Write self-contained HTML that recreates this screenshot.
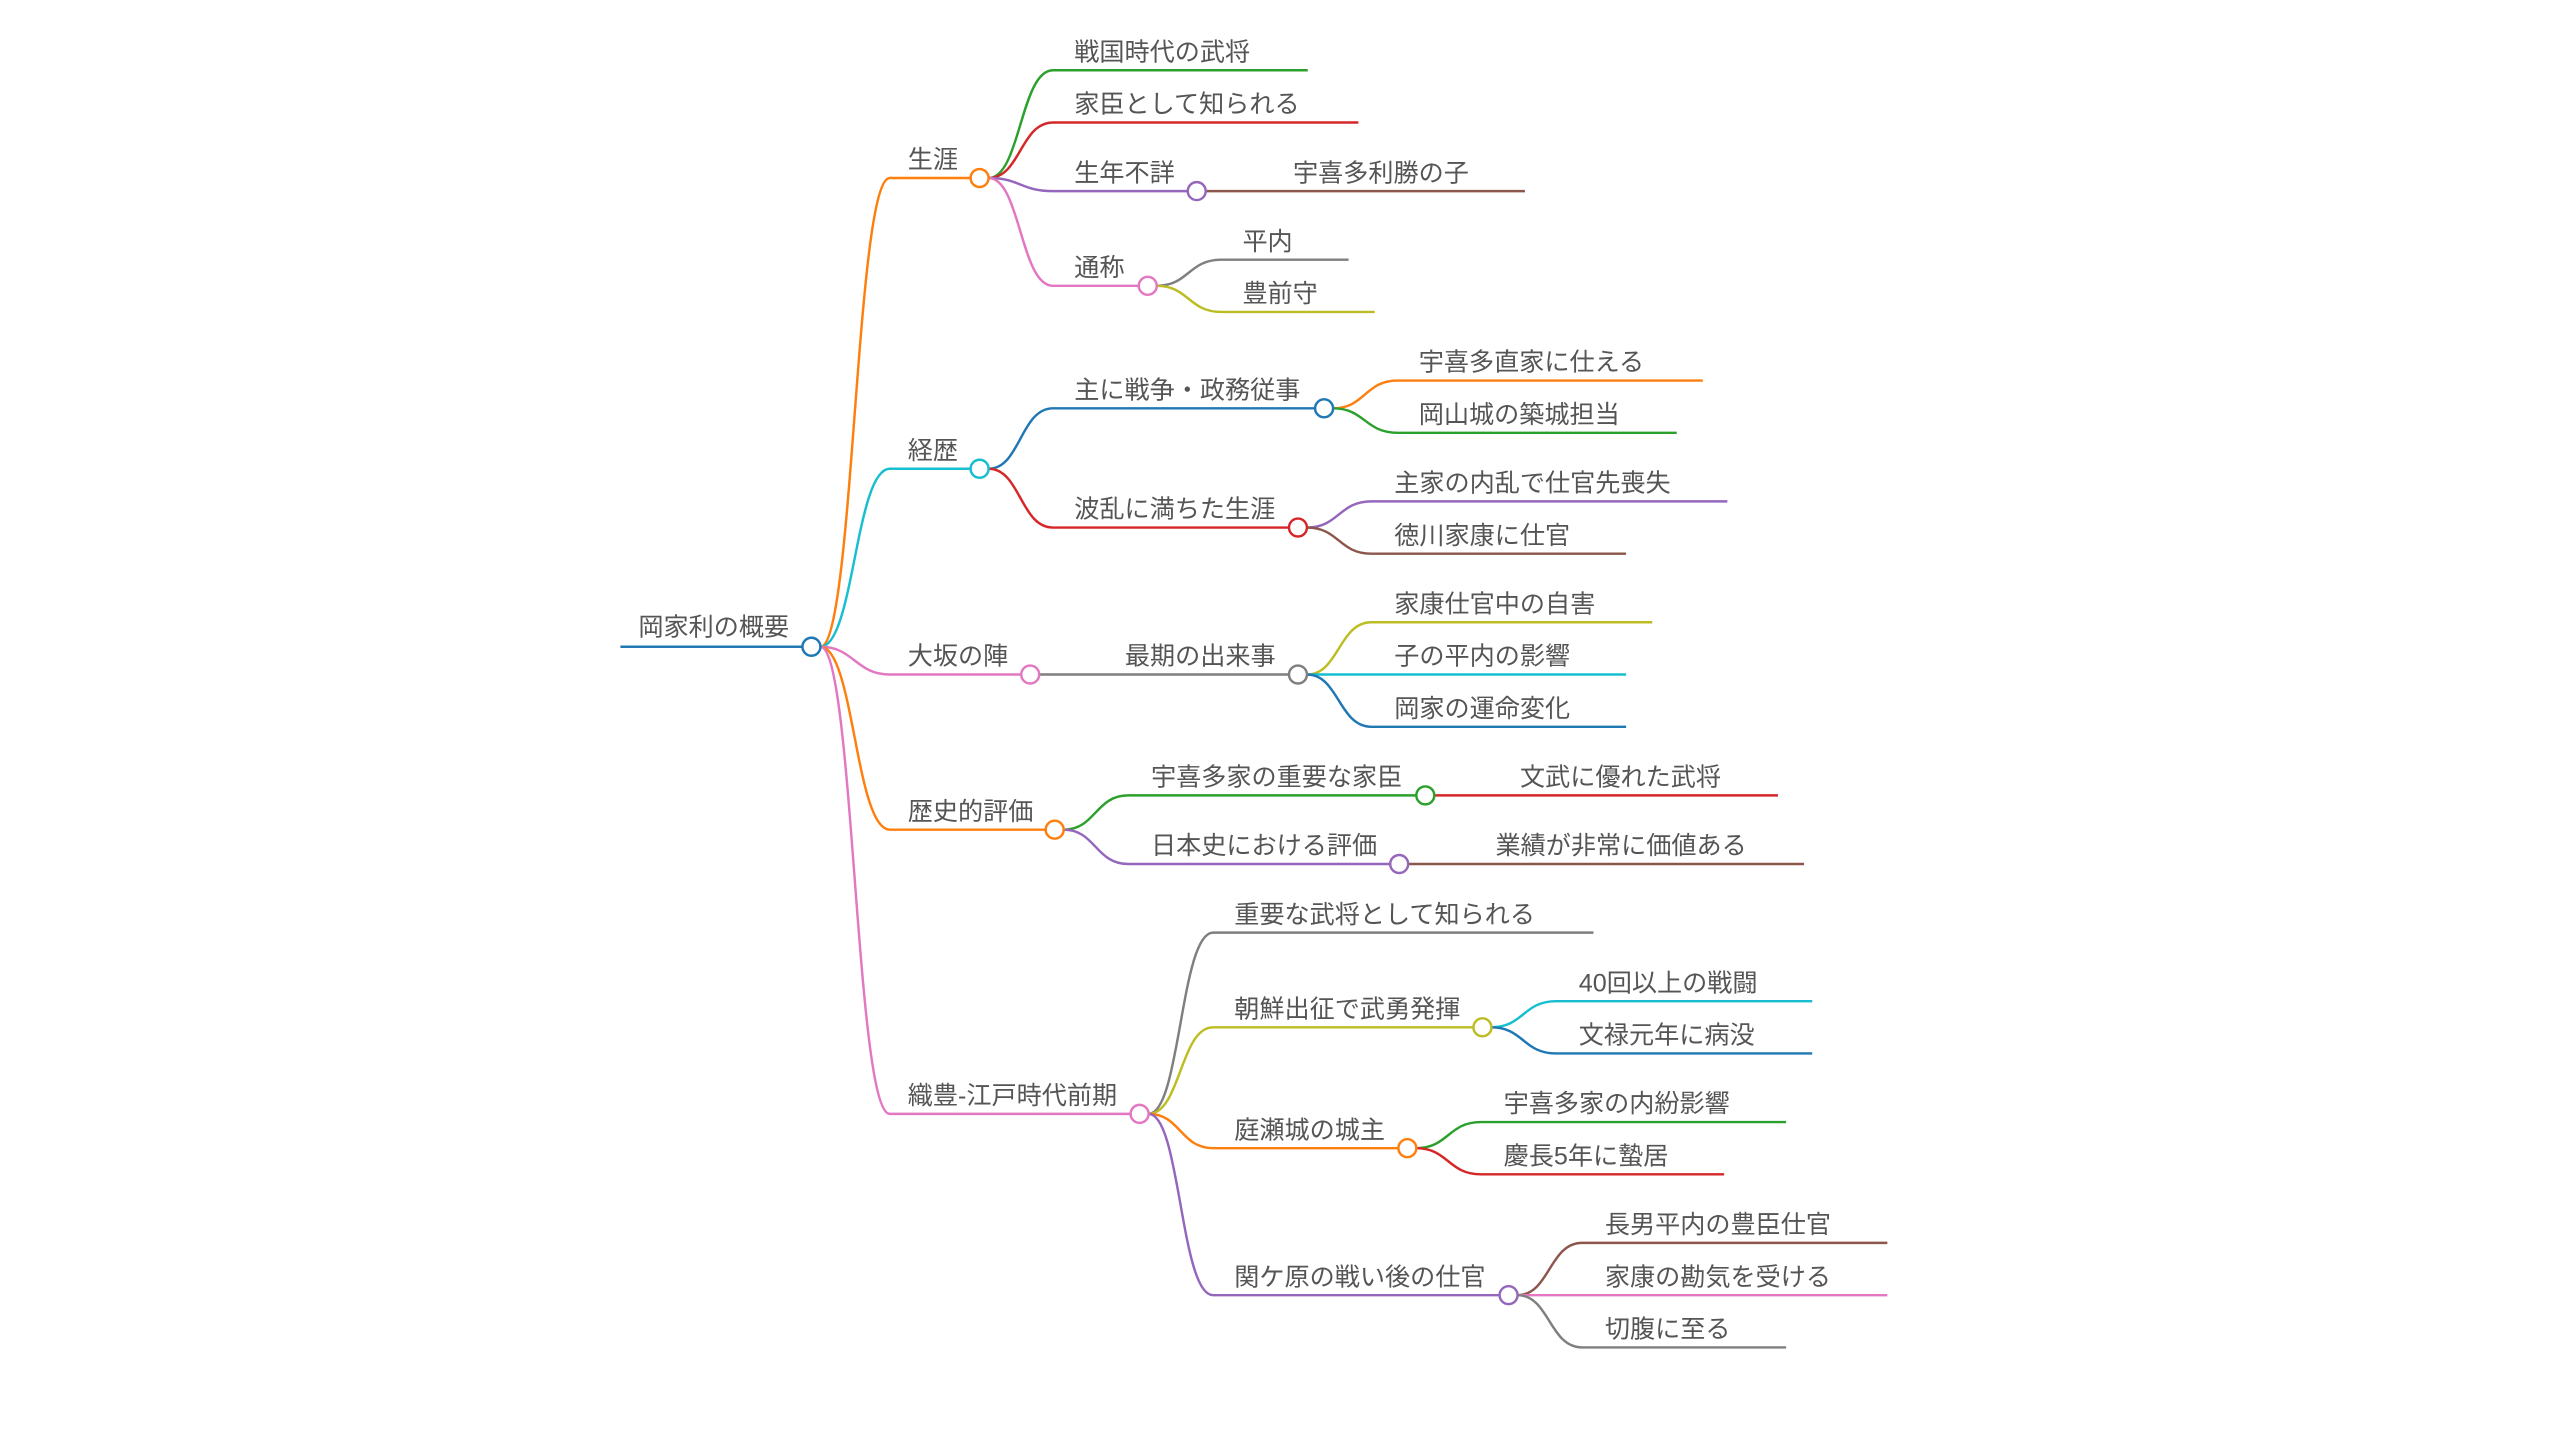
<!DOCTYPE html>
<html><head><meta charset="utf-8"><style>
html,body{margin:0;padding:0;background:#fff;}
svg{display:block}
text{font-family:"Liberation Sans","Noto Sans CJK JP",sans-serif;font-size:15.4px;fill:#555;}
path{fill:none;stroke-width:1.5}
circle{fill:#fff;stroke-width:1.5}
</style></head><body>
<svg width="2560" height="1434" viewBox="0 0 1568 878" preserveAspectRatio="none" xmlns="http://www.w3.org/2000/svg">
<path d="M380 396 H492" stroke="#1f77b4" stroke-width="2.8"/>
<text x="391" y="389">岡家利の概要</text>
<path d="M502.5 396 C523 396 524 109 545 109 H594.5" stroke="#ff7f0e"/>
<path d="M502.5 396 C523 396 524 287 545 287 H594.5" stroke="#17becf"/>
<path d="M502.5 396 C523 396 524 413 545 413 H625.5" stroke="#e377c2"/>
<path d="M502.5 396 C523 396 524 508 545 508 H640.5" stroke="#ff7f0e"/>
<path d="M502.5 396 C523 396 524 682 545 682 H692.5" stroke="#e377c2"/>
<text x="556" y="103">生涯</text>
<text x="556" y="281">経歴</text>
<text x="556" y="407">大坂の陣</text>
<text x="556" y="502">歴史的評価</text>
<text x="556" y="676">織豊-江戸時代前期</text>
<path d="M605.5 109 C625 109 625 43 645 43 H801" stroke="#2ca02c"/>
<path d="M605.5 109 C625 109 625 75 645 75 H832" stroke="#d62728"/>
<path d="M605.5 109 C625 109 625 117 645 117 H727.5" stroke="#9467bd"/>
<path d="M605.5 109 C625 109 625 175 645 175 H697.5" stroke="#e377c2"/>
<path d="M738.5 117 H934" stroke="#8c564b"/>
<path d="M708.5 175 C728 175 728 159 748 159 H826" stroke="#7f7f7f"/>
<path d="M708.5 175 C728 175 728 191 748 191 H842" stroke="#bcbd22"/>
<text x="658" y="37">戦国時代の武将</text>
<text x="658" y="69">家臣として知られる</text>
<text x="658" y="111">生年不詳</text>
<text x="792" y="111">宇喜多利勝の子</text>
<text x="658" y="169">通称</text>
<text x="761" y="153">平内</text>
<text x="761" y="185">豊前守</text>
<path d="M605.5 287 C625 287 625 250 645 250 H805.5" stroke="#1f77b4"/>
<path d="M605.5 287 C625 287 625 323 645 323 H789.5" stroke="#d62728"/>
<path d="M816.5 250 C836 250 836 233 856 233 H1043" stroke="#ff7f0e"/>
<path d="M816.5 250 C836 250 836 265 856 265 H1027" stroke="#2ca02c"/>
<path d="M800.5 323 C820 323 820 307 840 307 H1058" stroke="#9467bd"/>
<path d="M800.5 323 C820 323 820 339 840 339 H996" stroke="#8c564b"/>
<text x="658" y="244">主に戦争・政務従事</text>
<text x="658" y="317">波乱に満ちた生涯</text>
<text x="869" y="227">宇喜多直家に仕える</text>
<text x="869" y="259">岡山城の築城担当</text>
<text x="854" y="301">主家の内乱で仕官先喪失</text>
<text x="854" y="333">徳川家康に仕官</text>
<path d="M636.5 413 H789.5" stroke="#7f7f7f"/>
<path d="M800.5 413 C820 413 820 381 840 381 H1012" stroke="#bcbd22"/>
<path d="M800.5 413 H996" stroke="#17becf"/>
<path d="M800.5 413 C820 413 820 445 840 445 H996" stroke="#1f77b4"/>
<text x="689" y="407">最期の出来事</text>
<text x="854" y="375">家康仕官中の自害</text>
<text x="854" y="407">子の平内の影響</text>
<text x="854" y="439">岡家の運命変化</text>
<path d="M651.5 508 C671 508 671 487 691 487 H867.5" stroke="#2ca02c"/>
<path d="M651.5 508 C671 508 671 529 691 529 H851.5" stroke="#9467bd"/>
<path d="M878.5 487 H1089" stroke="#d62728"/>
<path d="M862.5 529 H1105" stroke="#8c564b"/>
<text x="705" y="481">宇喜多家の重要な家臣</text>
<text x="705" y="523">日本史における評価</text>
<text x="931" y="481">文武に優れた武将</text>
<text x="916" y="523">業績が非常に価値ある</text>
<path d="M703.5 682 C723 682 723 571 743 571 H976" stroke="#7f7f7f"/>
<path d="M703.5 682 C723 682 723 629 743 629 H902.5" stroke="#bcbd22"/>
<path d="M703.5 682 C723 682 723 703 743 703 H856.5" stroke="#ff7f0e"/>
<path d="M703.5 682 C723 682 723 793 743 793 H918.5" stroke="#9467bd"/>
<path d="M913.5 629 C933 629 933 613 953 613 H1110" stroke="#17becf"/>
<path d="M913.5 629 C933 629 933 645 953 645 H1110" stroke="#1f77b4"/>
<path d="M867.5 703 C887 703 887 687 907 687 H1094" stroke="#2ca02c"/>
<path d="M867.5 703 C887 703 887 719 907 719 H1056" stroke="#d62728"/>
<path d="M929.5 793 C949 793 949 761 969 761 H1156" stroke="#8c564b"/>
<path d="M929.5 793 H1156" stroke="#e377c2"/>
<path d="M929.5 793 C949 793 949 825 969 825 H1094" stroke="#7f7f7f"/>
<text x="756" y="565">重要な武将として知られる</text>
<text x="756" y="623">朝鮮出征で武勇発揮</text>
<text x="756" y="697">庭瀬城の城主</text>
<text x="756" y="787">関ケ原の戦い後の仕官</text>
<text x="967" y="607">40回以上の戦闘</text>
<text x="967" y="639">文禄元年に病没</text>
<text x="921" y="681">宇喜多家の内紛影響</text>
<text x="921" y="713">慶長5年に蟄居</text>
<text x="983" y="755">長男平内の豊臣仕官</text>
<text x="983" y="787">家康の勘気を受ける</text>
<text x="983" y="819">切腹に至る</text>
<circle cx="497" cy="396" r="5.5" stroke="#1f77b4"/>
<circle cx="600" cy="109" r="5.5" stroke="#ff7f0e"/>
<circle cx="600" cy="287" r="5.5" stroke="#17becf"/>
<circle cx="631" cy="413" r="5.5" stroke="#e377c2"/>
<circle cx="646" cy="508" r="5.5" stroke="#ff7f0e"/>
<circle cx="698" cy="682" r="5.5" stroke="#e377c2"/>
<circle cx="733" cy="117" r="5.5" stroke="#9467bd"/>
<circle cx="703" cy="175" r="5.5" stroke="#e377c2"/>
<circle cx="811" cy="250" r="5.5" stroke="#1f77b4"/>
<circle cx="795" cy="323" r="5.5" stroke="#d62728"/>
<circle cx="795" cy="413" r="5.5" stroke="#7f7f7f"/>
<circle cx="873" cy="487" r="5.5" stroke="#2ca02c"/>
<circle cx="857" cy="529" r="5.5" stroke="#9467bd"/>
<circle cx="908" cy="629" r="5.5" stroke="#bcbd22"/>
<circle cx="862" cy="703" r="5.5" stroke="#ff7f0e"/>
<circle cx="924" cy="793" r="5.5" stroke="#9467bd"/>
</svg>
</body></html>
